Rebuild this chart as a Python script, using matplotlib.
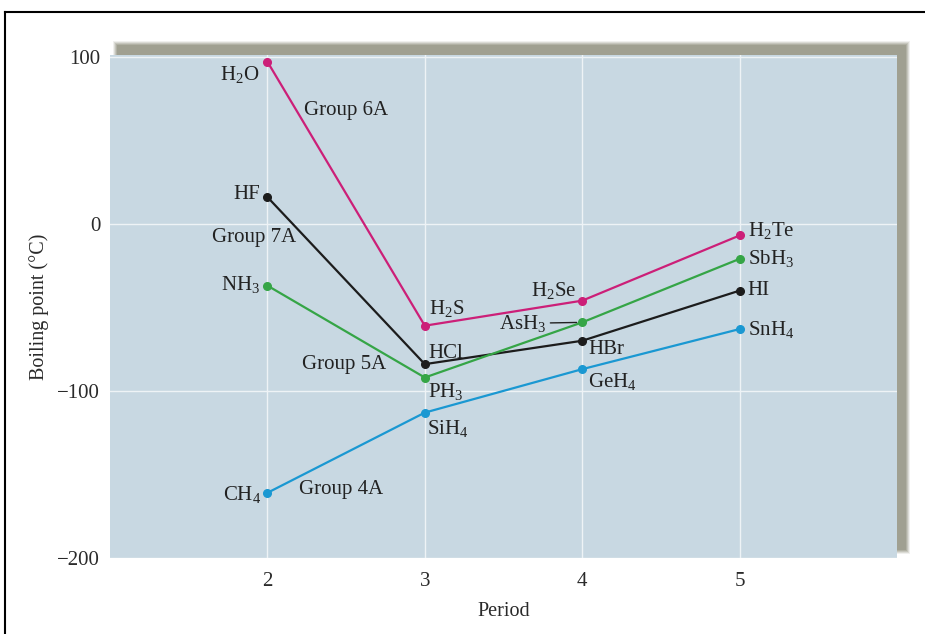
import matplotlib
matplotlib.use("Agg")
import matplotlib.pyplot as plt
from matplotlib.patches import Rectangle
from matplotlib.lines import Line2D

plt.rcParams['font.family'] = ['Liberation Serif', 'DejaVu Serif']
plt.rcParams['mathtext.fontset'] = 'custom'
plt.rcParams['mathtext.rm'] = 'Liberation Serif'
plt.rcParams['mathtext.it'] = 'Liberation Serif:italic'

# periods on the x axis
periods = [2, 3, 4, 5]

# boiling points (deg C)
group6a = [97, -61, -46, -7]
group7a = [16, -84, -70, -40]
group5a = [-37, -92, -59, -21]
group4a = [-161, -113, -87, -63]

names6a = [r'H$_2$O', r'H$_2$S', r'H$_2$Se', r'H$_2$Te']
names7a = ['HF', 'HCl', 'HBr', 'HI']
names5a = [r'NH$_3$', r'PH$_3$', r'AsH$_3$', r'SbH$_3$']
names4a = [r'CH$_4$', r'SiH$_4$', r'GeH$_4$', r'SnH$_4$']

yticks = [100, 0, -100, -200]

c6 = '#cc1f78'
c7 = '#1c1c1c'
c5 = '#35a546'
c4 = '#1a98d2'
bg = '#c8d8e2'

fig = plt.figure(figsize=(9.25, 6.34), dpi=100)
W, H = 925, 634

def px(x0, y0, x1, y1):
    # pixel box -> figure fraction rect
    return [x0 / W, 1 - y1 / H, (x1 - x0) / W, (y1 - y0) / H]

# soft grey shadow up and to the right of the plot
for i, a in enumerate([0.15, 0.25, 0.35, 0.5, 0.85]):
    g = 4 - i
    r = px(117 - g, 45 - g, 906 + g, 550 + g)
    fig.add_artist(Rectangle((r[0], r[1]), r[2], r[3], transform=fig.transFigure,
                             facecolor='#9e9e8e', edgecolor='none', alpha=a, zorder=-1))

# frame lines at top and left of the image
fig.add_artist(Line2D([5 / W, 1], [1 - 12 / H, 1 - 12 / H], color='black', lw=1.5,
                      transform=fig.transFigure))
fig.add_artist(Line2D([5 / W, 5 / W], [0, 1 - 12 / H], color='black', lw=1.5,
                      transform=fig.transFigure))

ax = fig.add_axes(px(110, 55, 897, 558))
ax.set_facecolor(bg)
ax.set_xlim(1, 6)
ax.set_ylim(-200, 101)
ax.set_xticks(periods)
ax.set_yticks(yticks)
ax.grid(True, color='#eef3f6', lw=1.0)
ax.set_axisbelow(True)
for s in ax.spines.values():
    s.set_visible(False)
ax.tick_params(axis='y', length=0, labelsize=15, colors='#2a2a2a', pad=7)
ax.tick_params(axis='x', length=0, labelsize=15, colors='#2a2a2a', pad=10)
ax.set_xlabel('Period', fontsize=14.5, color='#2a2a2a', labelpad=8)
ax.set_ylabel('Boiling point (°C)', fontsize=14.5, color='#2a2a2a', labelpad=6)

for vals, col in [(group6a, c6), (group7a, c7), (group5a, c5), (group4a, c4)]:
    ax.plot(periods, vals, color=col, lw=1.6, marker='o', ms=5.5, zorder=3)

fs = 15
tc = '#222222'

def lab(text, x, y, dx, dy, ha):
    ax.annotate(text, (x, y), xytext=(dx, dy), textcoords='offset pixels',
                ha=ha, va='center', fontsize=fs, color=tc)

# compound labels, offsets in pixels from each point
offs6 = [(-8, -13, 'right'), (4, 17, 'left'), (-6, 10, 'right'), (8, 5, 'left')]
offs7 = [(-7, 3, 'right'), (4, 11, 'left'), (6, -9, 'left'), (8, 0, 'left')]
offs5 = [(-7, 1, 'right'), (3, -14, 'left'), None, (8, 0, 'left')]
offs4 = [(-6, -2, 'right'), (2, -16, 'left'), (6, -12, 'left'), (8, 0, 'left')]

for names, vals, offs in [(names6a, group6a, offs6), (names7a, group7a, offs7),
                          (names5a, group5a, offs5), (names4a, group4a, offs4)]:
    for n, x, y, o in zip(names, periods, vals, offs):
        if o is not None:
            lab(n, x, y, o[0], o[1], o[2])

# AsH3 with a leader line
ax.annotate(names5a[2], (periods[2], group5a[2]), xytext=(-36, -1),
            textcoords='offset pixels', ha='right', va='center', fontsize=fs, color=tc,
            arrowprops=dict(arrowstyle='-', color=tc, lw=1, shrinkA=1, shrinkB=4))

# group labels
ax.text(2.234, 68, 'Group 6A', fontsize=fs, color=tc, ha='left', va='center')
ax.text(1.646, -8.5, 'Group 7A', fontsize=fs, color=tc, ha='left', va='center')
ax.text(2.22, -84.5, 'Group 5A', fontsize=fs, color=tc, ha='left', va='center')
ax.text(2.2, -159, 'Group 4A', fontsize=fs, color=tc, ha='left', va='center')

fig.savefig('out.png', dpi=100)
